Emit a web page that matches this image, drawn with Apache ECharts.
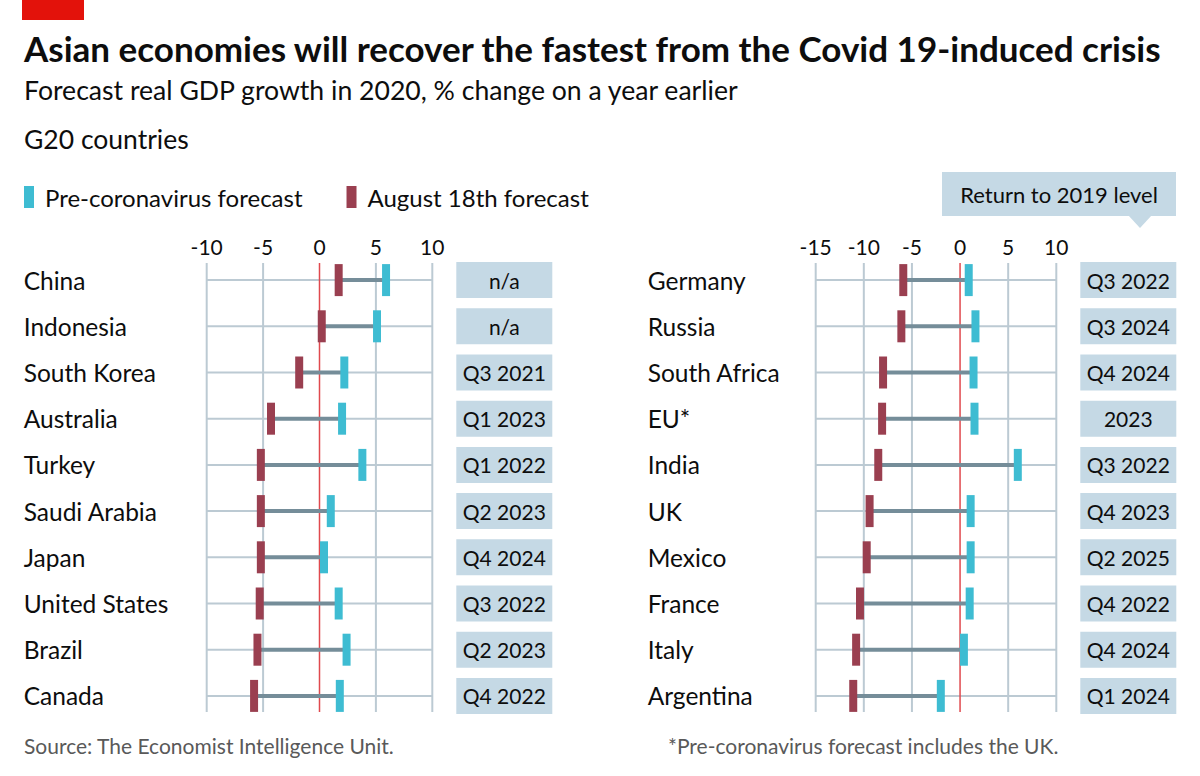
<!DOCTYPE html>
<html><head><meta charset="utf-8">
<script src="https://cdn.jsdelivr.net/npm/echarts@6/dist/echarts.min.js"></script>
<style>html,body{margin:0;padding:0;background:#fff}#c{width:1200px;height:776px}</style>
</head><body><div id="c"></div>
<script>
// ---- data ----
const leftCountries = ['China','Indonesia','South Korea','Australia','Turkey','Saudi Arabia','Japan','United States','Brazil','Canada'];
const leftPre = [5.9, 5.1, 2.2, 2.0, 3.8, 1.0, 0.4, 1.7, 2.4, 1.8];
const leftAug = [1.7, 0.2, -1.8, -4.3, -5.2, -5.2, -5.2, -5.3, -5.5, -5.8];
const leftReturn = ['n/a','n/a','Q3 2021','Q1 2023','Q1 2022','Q2 2023','Q4 2024','Q3 2022','Q2 2023','Q4 2022'];

const rightCountries = ['Germany','Russia','South Africa','EU*','India','UK','Mexico','France','Italy','Argentina'];
const rightPre = [0.9, 1.6, 1.4, 1.5, 6.0, 1.1, 1.1, 1.0, 0.4, -2.0];
const rightAug = [-5.9, -6.1, -8.0, -8.1, -8.5, -9.4, -9.7, -10.4, -10.8, -11.1];
const rightReturn = ['Q3 2022','Q3 2024','Q4 2024','2023','Q3 2022','Q4 2023','Q2 2025','Q4 2022','Q4 2024','Q1 2024'];

const leftTicks = [-10, -5, 0, 5, 10];
const rightTicks = [-15, -10, -5, 0, 5, 10];

// ---- style ----
const FONT = 'Lato';
const C_PRE = '#3ebcd2', C_AUG = '#9a3f50', C_LINK = '#758d99', C_GRID = '#bccad3', C_ZERO = '#e0494e', C_BOX = '#c5d9e5', C_TEXT = '#0d0d0d';

function panelSeries(gi, countries, pre, aug, ret, ticks){
  const xmin = ticks[0], xmax = ticks[ticks.length-1], n = countries.length;
  const base = {xAxisIndex: gi, yAxisIndex: gi, silent: true};
  return [
    Object.assign({type:'custom', z:1, clip:false, encode:{x:0,y:1},
      data: ticks.filter(v=>v!==0).map(v=>[v,0]),
      renderItem(p, api){
        const v = api.value(0), a = api.coord([v,0]), b = api.coord([v,n-1]);
        return {type:'line', shape:{x1:a[0],y1:a[1]-17,x2:a[0],y2:b[1]+16}, style:{stroke:C_GRID,lineWidth:2}};
      }}, base),
    Object.assign({type:'custom', z:1, clip:false, encode:{x:0,y:1},
      data: countries.map((c,i)=>[xmin,i]),
      renderItem(p, api){
        const i = api.value(1), a = api.coord([xmin,i]), b = api.coord([xmax,i]);
        return {type:'line', shape:{x1:a[0],y1:a[1],x2:b[0],y2:b[1]}, style:{stroke:C_GRID,lineWidth:2}};
      }}, base),
    Object.assign({type:'custom', z:2, clip:false, encode:{x:0,y:1},
      data: [[0,0]],
      renderItem(p, api){
        const a = api.coord([0,0]), b = api.coord([0,n-1]);
        return {type:'line', shape:{x1:a[0],y1:a[1]-17,x2:a[0],y2:b[1]+16}, style:{stroke:C_ZERO,lineWidth:1.5}};
      }}, base),
    Object.assign({type:'custom', z:3, clip:false, encode:{x:[0,1],y:2},
      data: countries.map((c,i)=>[aug[i],pre[i],i]),
      renderItem(p, api){
        const i = api.value(2), a = api.coord([api.value(0),i]), b = api.coord([api.value(1),i]);
        return {type:'line', shape:{x1:a[0],y1:a[1],x2:b[0],y2:b[1]}, style:{stroke:C_LINK,lineWidth:4}};
      }}, base),
    Object.assign({type:'scatter', name:'Pre-coronavirus forecast', z:4, symbol:'rect', symbolSize:[8,32],
      itemStyle:{color:C_PRE, opacity:1}, data: pre.map((v,i)=>[v,i])}, base),
    Object.assign({type:'scatter', name:'August 18th forecast', z:4, symbol:'rect', symbolSize:[8,32],
      itemStyle:{color:C_AUG, opacity:1}, data: aug.map((v,i)=>[v,i])}, base),
    Object.assign({type:'custom', z:2, clip:false, encode:{x:0,y:1},
      data: ret.map((t,i)=>[xmax,i]),
      renderItem(p, api){
        const i = api.value(1), a = api.coord([xmax,i]);
        const x = a[0]+24, w = 96, h = 36;
        return {type:'group', children:[
          {type:'rect', shape:{x:x,y:a[1]-h/2,width:w,height:h}, style:{fill:C_BOX}},
          {type:'text', x:x+w/2, y:a[1], style:{text:ret[p.dataIndex], fill:C_TEXT, font:'21px '+FONT, align:'center', verticalAlign:'middle'}}
        ]};
      }}, base)
  ];
}

function axes(gi, countries, ticks, labelMargin){
  return {
    x: {gridIndex:gi, type:'value', position:'top', min:ticks[0], max:ticks[ticks.length-1], interval:5,
        axisLine:{show:false}, axisTick:{show:false}, splitLine:{show:false},
        axisLabel:{margin:0, fontFamily:FONT, fontSize:21, color:C_TEXT}},
    y: {gridIndex:gi, type:'category', inverse:true, data:countries,
        axisLine:{show:false}, axisTick:{show:false}, splitLine:{show:false},
        axisLabel:{align:'left', margin:labelMargin, fontFamily:FONT, fontSize:24.5, color:C_TEXT}}
  };
}

const L = axes(0, leftCountries, leftTicks, 183);
const R = axes(1, rightCountries, rightTicks, 168);

const chart = echarts.init(document.getElementById('c'), null, {renderer:'svg'});
chart.setOption({
  animation:false,
  backgroundColor:'#fff',
  grid:[
    {left:206.7, width:225.6, top:257, height:462, containLabel:false, outerBoundsMode:'none'},
    {left:815.7, width:240.6, top:257, height:462, containLabel:false, outerBoundsMode:'none'}
  ],
  xAxis:[L.x, R.x],
  yAxis:[L.y, R.y],
  legend:{left:19, top:180, icon:'rect', itemWidth:10, itemHeight:22, itemGap:44, selectedMode:false,
    data:['Pre-coronavirus forecast','August 18th forecast'],
    textStyle:{fontFamily:FONT, fontSize:24, color:C_TEXT, padding:[0,0,0,6]}},
  graphic:[
    {type:'rect', shape:{x:22,y:0,width:62,height:20}, style:{fill:'#e3120b'}},
    {type:'text', x:24, y:48, style:{text:'Asian economies will recover the fastest from the Covid 19-induced crisis', font:'bold 35px '+FONT, fill:C_TEXT, verticalAlign:'middle'}},
    {type:'text', x:24, y:90, style:{text:'Forecast real GDP growth in 2020, % change on a year earlier', font:'26.6px '+FONT, fill:C_TEXT, verticalAlign:'middle'}},
    {type:'text', x:24, y:139, style:{text:'G20 countries', font:'26.5px '+FONT, fill:C_TEXT, verticalAlign:'middle'}},
    {type:'rect', shape:{x:942,y:172,width:234,height:44}, style:{fill:C_BOX}},
    {type:'polygon', shape:{points:[[1128,215],[1152,215],[1140,228]]}, style:{fill:C_BOX}},
    {type:'text', x:1059, y:194, style:{text:'Return to 2019 level', font:'22px '+FONT, fill:C_TEXT, align:'center', verticalAlign:'middle'}},
    {type:'text', x:24, y:745, style:{text:'Source: The Economist Intelligence Unit.', font:'21px '+FONT, fill:'#595959', verticalAlign:'middle'}},
    {type:'text', x:668, y:745, style:{text:'*Pre-coronavirus forecast includes the UK.', font:'21px '+FONT, fill:'#595959', verticalAlign:'middle'}}
  ],
  series: panelSeries(0, leftCountries, leftPre, leftAug, leftReturn, leftTicks)
    .concat(panelSeries(1, rightCountries, rightPre, rightAug, rightReturn, rightTicks))
});
</script></body></html>
